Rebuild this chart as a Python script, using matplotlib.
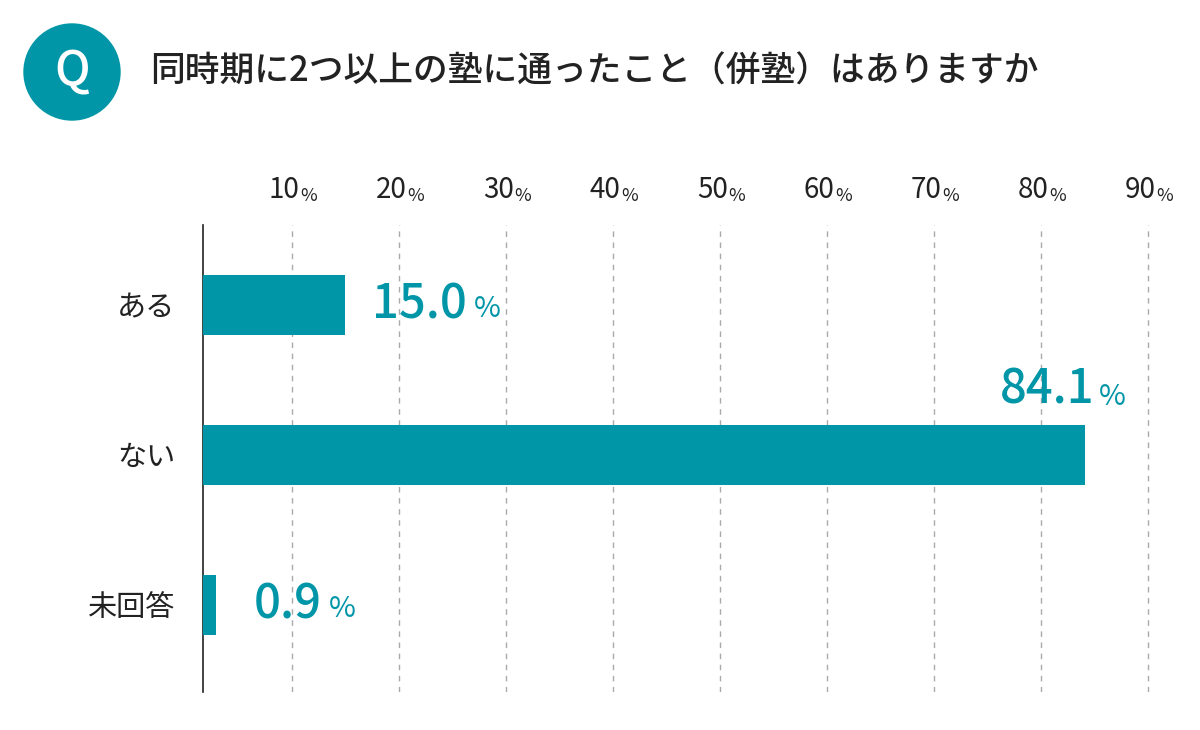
import numpy as np
import matplotlib.pyplot as plt
from matplotlib.patches import Circle

plt.rcParams['font.family'] = 'Noto Sans CJK JP'

title = '同時期に2つ以上の塾に通ったこと（併塾）はありますか'
categories = ['ある', 'ない', '未回答']
values = [15.0, 84.1, 0.9]
ticks = [10, 20, 30, 40, 50, 60, 70, 80, 90]

teal = '#0096a8'
x0 = 1.7

fig = plt.figure(figsize=(12, 7.3), dpi=100)
ax = fig.add_axes([203 / 1200, 38 / 730, 957 / 1200, 467 / 730])
ax.set_xlim(x0, x0 + 957 / 10.7)
ax.set_ylim(2.58, -0.53)

y = np.arange(len(values))
widths = np.maximum(np.array(values) - x0, 1.2)
ax.barh(y, widths, left=x0, height=0.4, color=teal, zorder=3)

for t in ticks:
    ax.axvline(t, color='#aaaaaa', ls=(0, (4, 4)), lw=1, zorder=1)
    ax.annotate(str(t), (t, 1), xycoords=('data', 'axes fraction'),
                xytext=(8, 20), textcoords='offset pixels',
                ha='right', va='bottom', fontsize=20, color='#222222')
    ax.annotate('%', (t, 1), xycoords=('data', 'axes fraction'),
                xytext=(8, 20), textcoords='offset pixels',
                ha='left', va='bottom', fontsize=13, color='#222222')

for i, v in enumerate(values):
    num = f'{v:.1f}'
    if v > 50:
        ax.annotate(num, (v, i), xytext=(10, 40), textcoords='offset pixels',
                    ha='right', va='bottom', fontsize=34, color=teal,
                    fontweight='medium')
        ax.annotate('%', (v, i), xytext=(14, 43), textcoords='offset pixels',
                    ha='left', va='bottom', fontsize=21, color=teal)
    else:
        end = x0 + widths[i]
        off = 27 if v > 5 else 38
        t = ax.annotate(num, (end, i), xytext=(off, 0), textcoords='offset pixels',
                        ha='left', va='center', fontsize=34, color=teal,
                        fontweight='medium')
        fig.canvas.draw()
        bb = t.get_window_extent()
        fig.text((bb.x1 + 7) / 1200, (bb.y0 + 5) / 730, '%', ha='left', va='bottom',
                 fontsize=21, color=teal)

ax.set_yticks(y)
ax.set_yticklabels(categories, fontsize=21, color='#222222')
ax.tick_params(axis='y', length=0, pad=20)
ax.set_xticks([])
for s in ['top', 'right', 'bottom']:
    ax.spines[s].set_visible(False)
ax.spines['left'].set_color('#222222')
ax.spines['left'].set_linewidth(1.2)

circ = Circle((0.72, 7.3 - 0.72), 0.48, transform=fig.dpi_scale_trans, color=teal)
fig.patches.append(circ)
fig.text(72 / 1200, 1 - 72 / 730, 'Q', ha='center', va='center', fontsize=34,
         color='white', fontweight='medium')
fig.text(150 / 1200, 1 - 72 / 730, title, ha='left', va='center', fontsize=25,
         color='#222222', fontweight='medium')

fig.savefig('out.png', dpi=100)
